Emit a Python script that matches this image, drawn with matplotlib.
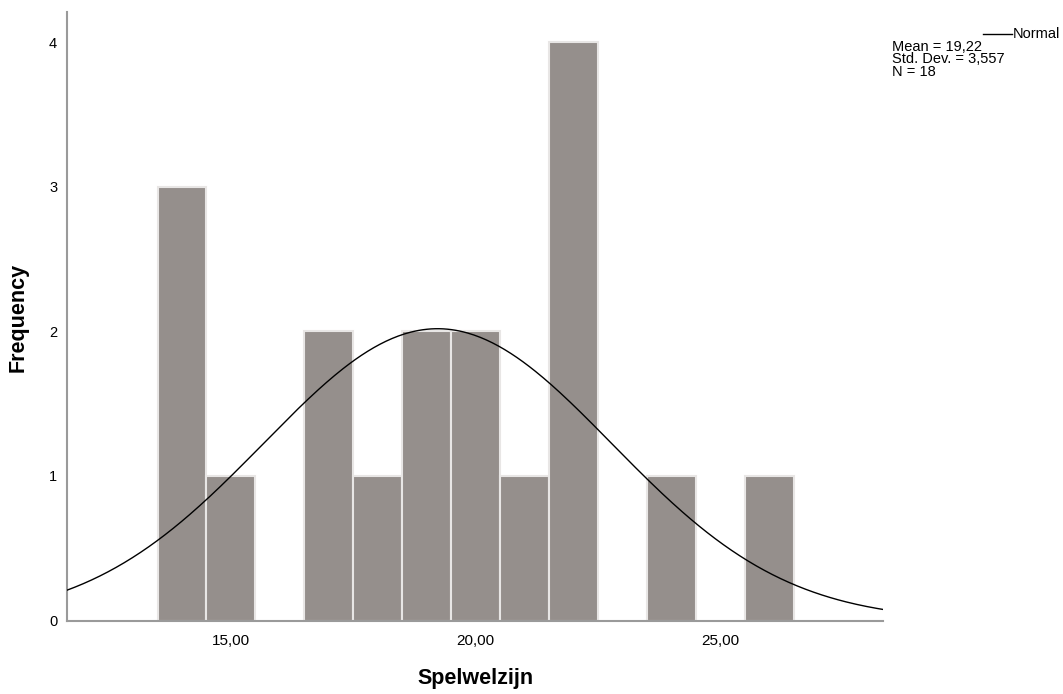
import numpy as np
import matplotlib.pyplot as plt

plt.rcParams['font.family'] = ['Liberation Sans', 'DejaVu Sans']

# bin centres (width 1) and counts
bin_centers = [14, 15, 17, 18, 19, 20, 21, 22, 24, 26]
counts = [3, 1, 2, 1, 2, 2, 1, 4, 1, 1]
mean = 19.22
std_dev = 3.557
n = 18
bin_width = 1.0

x_ticks = [15, 20, 25]
x_tick_labels = ['15,00', '20,00', '25,00']
y_ticks = [0, 1, 2, 3, 4]

fig = plt.figure(figsize=(10.63, 6.94), dpi=100)
ax = fig.add_axes([0.063, 0.1059, 0.7677, 0.8768])

ax.bar(bin_centers, counts, width=bin_width, color='#958f8c',
       edgecolor='#e8e6e5', linewidth=1.5, zorder=2)

xmin, xmax = 11.65, 28.32
xs = np.linspace(xmin, xmax, 400)
pdf = n * bin_width / (std_dev * np.sqrt(2 * np.pi)) * np.exp(-0.5 * ((xs - mean) / std_dev) ** 2)
ax.plot(xs, pdf, color='black', linewidth=1.0, zorder=3)

ax.set_xlim(xmin, xmax)
ax.set_ylim(0, 4.21)
ax.set_xticks(x_ticks)
ax.set_xticklabels(x_tick_labels)
ax.set_yticks(y_ticks)
ax.tick_params(axis='x', length=0, labelsize=11, pad=10)
ax.tick_params(axis='y', length=0, labelsize=10.5, pad=7)

for side in ['top', 'right']:
    ax.spines[side].set_visible(False)
for side in ['left', 'bottom']:
    ax.spines[side].set_color('#9a9a9a')
    ax.spines[side].set_linewidth(1.5)

ax.set_xlabel('Spelwelzijn', fontsize=15.5, fontweight='bold', labelpad=14)
ax.set_ylabel('Frequency', fontsize=15.5, fontweight='bold')
ax.yaxis.set_label_coords(-0.0466, 0.498)

# legend-like annotation in the top right
fig.add_artist(plt.Line2D([983 / 1063, 1012 / 1063], [1 - 34 / 694, 1 - 34 / 694],
                          color='black', linewidth=1.0))
fig.text(1013 / 1063, 1 - 34 / 694, 'Normal', fontsize=10.5, va='center', ha='left')
fig.text(892 / 1063, 1 - 40 / 694, 'Mean = 19,22\nStd. Dev. = 3,557\nN = 18',
         fontsize=10.5, va='top', ha='left', linespacing=0.85)

plt.savefig('out.png', dpi=100)
